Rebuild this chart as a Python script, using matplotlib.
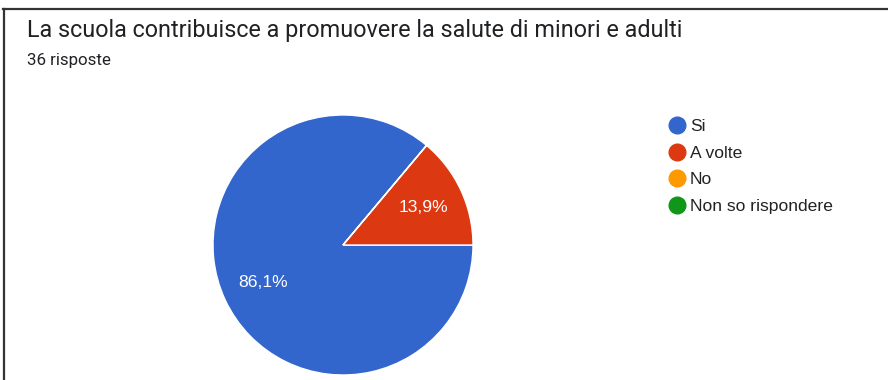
import matplotlib.pyplot as plt
from matplotlib.lines import Line2D

title = "La scuola contribuisce a promuovere la salute di minori e adulti"
subtitle = "36 risposte"
labels = ["Si", "A volte", "No", "Non so rispondere"]
counts = [31, 5, 0, 0]
colors = ["#3366cc", "#dc3912", "#ff9900", "#109618"]


def pct_label(p):
    # no label for empty slices, comma as decimal separator
    if p < 0.5:
        return ""
    return f"{p:.1f}%".replace(".", ",")


fig = plt.figure(figsize=(8.88, 3.80), dpi=100)
ax = fig.add_axes([0, 0, 1, 1])

wedges, _, autotexts = ax.pie(
    counts, colors=colors, startangle=50, counterclock=True,
    center=(343, 135), radius=130, autopct=pct_label, pctdistance=0.68,
    wedgeprops=dict(edgecolor="white", linewidth=1),
    textprops=dict(color="white", fontsize=12.6, family=["Liberation Sans", "DejaVu Sans"]),
    frame=True,
)
ax.set_xlim(0, 888)
ax.set_ylim(0, 380)
ax.set_aspect("equal")
ax.axis("off")

fig.text(27 / 888, 1 - 37 / 380, title, fontsize=16.8, family=["Roboto", "DejaVu Sans"],
         color="#202124", va="baseline")
fig.text(27 / 888, 1 - 65 / 380, subtitle, fontsize=12.2, family=["Roboto", "DejaVu Sans"],
         color="#202124", va="baseline")

# legend with round markers
handles = [Line2D([], [], marker="o", linestyle="", markersize=12,
                  markerfacecolor=c, markeredgecolor=c) for c in colors]
ax.legend(handles, labels, loc="upper left", bbox_to_anchor=(660 / 888, 1 - 112 / 380),
          frameon=False, prop=dict(family=["Liberation Sans", "DejaVu Sans"], size=12.6),
          handletextpad=0.2, labelspacing=0.65, handlelength=1.1, borderaxespad=0,
          labelcolor="#222222")

# border lines on top and left
fig.add_artist(Line2D([3 / 888, 1], [1 - 8.5 / 380, 1 - 8.5 / 380], color="#333333", linewidth=1.6))
fig.add_artist(Line2D([4 / 888, 4 / 888], [0, 1 - 8.5 / 380], color="#333333", linewidth=1.6))

fig.savefig("out.png", dpi=100, facecolor="white")
